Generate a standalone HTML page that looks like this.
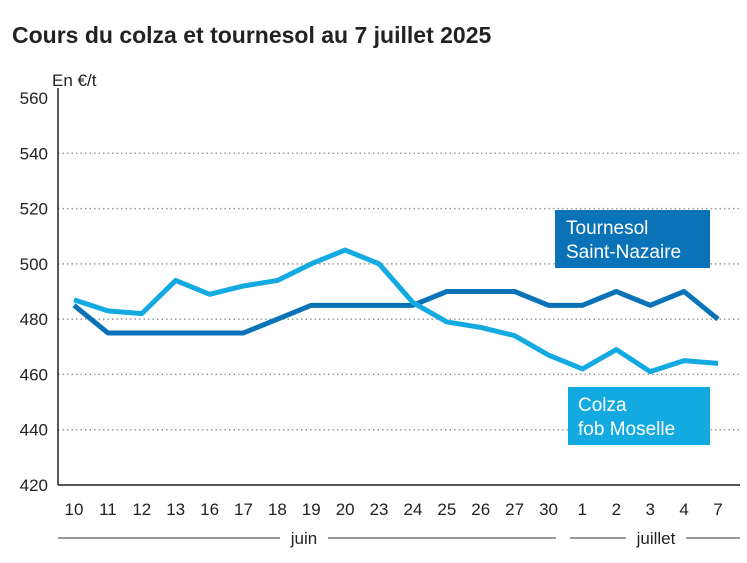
<!DOCTYPE html>
<html><head><meta charset="utf-8"><style>
body{margin:0;background:#fff;font-family:"Liberation Sans",sans-serif}
svg text{font-family:"Liberation Sans",sans-serif}
</style></head><body>
<svg width="747" height="558" viewBox="0 0 747 558">
<text x="12" y="43" font-size="23" font-weight="bold" fill="#222">Cours du colza et tournesol au 7 juillet 2025</text>
<text x="52" y="86" font-size="17" fill="#222">En €/t</text>
<g id="grid"></g><g id="yt"></g><g id="xt"></g><g id="lines"></g>
<line x1="58" y1="88" x2="58" y2="485" stroke="#222" stroke-width="1.5"/>
<line x1="58" y1="485" x2="740" y2="485" stroke="#222" stroke-width="1.5"/>
<g>
<line x1="58" y1="538" x2="280" y2="538" stroke="#333"/><line x1="328" y1="538" x2="556" y2="538" stroke="#333"/>
<text x="304" y="544" font-size="17" text-anchor="middle" fill="#222">juin</text></g>
<g>
<line x1="570" y1="538" x2="626" y2="538" stroke="#333"/><line x1="686" y1="538" x2="740" y2="538" stroke="#333"/>
<text x="656" y="544" font-size="17" text-anchor="middle" fill="#222">juillet</text></g>
<g>
<rect x="555" y="210" width="155" height="58" fill="#0a73b8"/>
<text x="566" y="234" font-size="19" fill="#fff">Tournesol</text>
<text x="566" y="258" font-size="19" fill="#fff">Saint-Nazaire</text></g>
<g>
<rect x="568" y="387" width="142" height="58" fill="#13a9e1"/>
<text x="578" y="411" font-size="19" fill="#fff">Colza</text>
<text x="578" y="435" font-size="19" fill="#fff">fob Moselle</text></g>
</svg>
<script>
const categories=["10","11","12","13","16","17","18","19","20","23","24","25","26","27","30","1","2","3","4","7"];
const tournesol=[485,475,475,475,475,475,480,485,485,485,485,490,490,490,485,485,490,485,490,480];
const colza=[487,483,482,494,489,492,494,500,505,500,486,479,477,474,467,462,469,461,465,464];
const yTicks=[420,440,460,480,500,520,540,560];
const NS="http://www.w3.org/2000/svg";
const x=i=>74+i*(718-74)/(categories.length-1);
const y=v=>485-(v-420)*(485-98)/140;
function mk(t,a,p){const e=document.createElementNS(NS,t);for(const k in a)e.setAttribute(k,a[k]);document.getElementById(p).appendChild(e);return e;}
yTicks.forEach(v=>{
 if(v>420&&v<560){const g=mk('line',{x1:58,x2:740,y1:y(v),y2:y(v),stroke:'#999','stroke-width':1.5,'stroke-dasharray':'1.5 3'},'grid');
 
 }
 const t=mk('text',{x:48,y:y(v)+6,'font-size':17,'text-anchor':'end',fill:'#222'},'yt');t.textContent=v;
 
 
});
categories.forEach((c,i)=>{const t=mk('text',{x:x(i),y:515,'font-size':17,'text-anchor':'middle',fill:'#222'},'xt');t.textContent=c;
 
 });
function line(d,col,name){const p=mk('polyline',{points:d.map((v,i)=>x(i)+','+y(v)).join(' '),fill:'none',stroke:col,'stroke-width':5,'stroke-linejoin':'round'},'lines');
 
 }
line(tournesol,'#0a73b8','line-tournesol');
line(colza,'#13a9e1','line-colza');
</script>
</body></html>
